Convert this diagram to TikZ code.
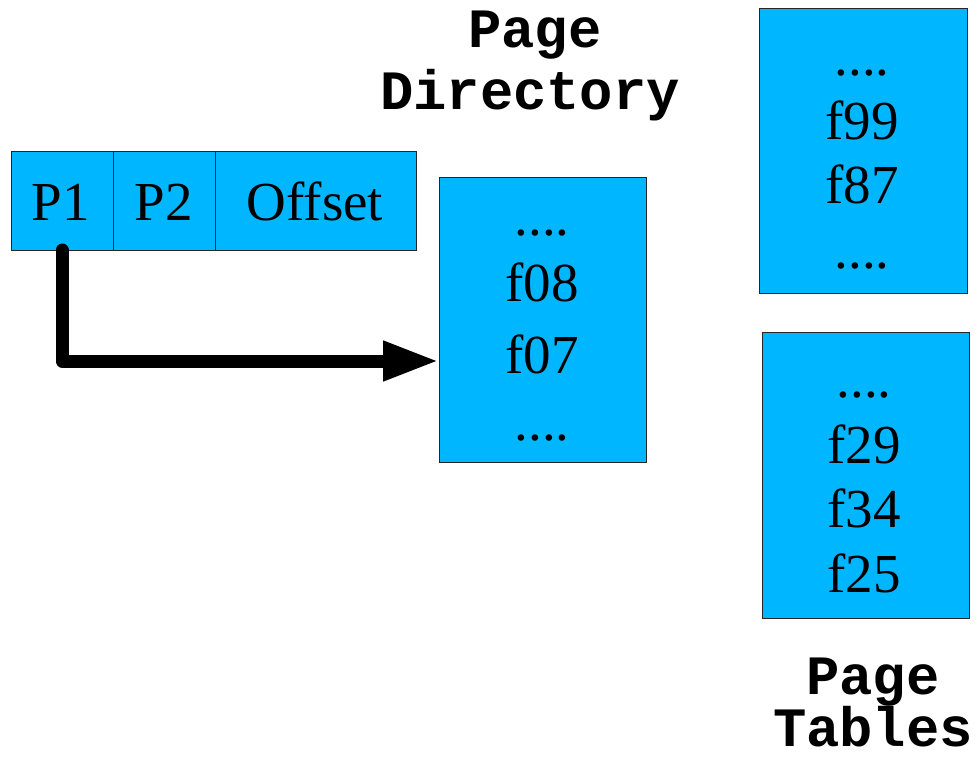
\documentclass[tikz,border=0pt]{standalone}
\usepackage{fontspec}
\setmainfont{Liberation Serif}
\newfontfamily\courfont{Liberation Mono}
\usetikzlibrary{arrows.meta}
\definecolor{boxblue}{RGB}{0,183,255}
\tikzset{
  cell/.style={draw=black!85, line width=0.9pt, fill=boxblue, anchor=north west, inner sep=0pt, outer sep=0pt},
  entry/.style={anchor=base, inner sep=0pt, font=\fontsize{55}{60}\selectfont},
  title/.style={anchor=base, inner sep=0pt, font=\courfont\bfseries\fontsize{55.5}{60}\selectfont},
  pointer/.style={line width=13pt, line cap=round, line join=round, -{Triangle[length=56pt,width=37pt]}}
}
\begin{document}
\begin{tikzpicture}[x=1pt,y=-1pt]
\useasboundingbox (0,0) rectangle (978,765);
% address bar
\node[cell, minimum width=102pt, minimum height=99pt] (p1) at (11,151) {};
\node[cell, minimum width=102pt, minimum height=99pt] (p2) at (113,151) {};
\node[cell, minimum width=201pt, minimum height=99pt] (off) at (215,151) {};
\node[entry] (tp1) at (61,221) {P1};
\node[entry] (tp2) at (164,221) {P2};
\node[entry] (toff) at (315,221) {Offset};
% page directory
\node[cell, minimum width=207pt, minimum height=285pt] (dir) at (439,177) {};
\node[entry] (d1) at (542,235) {....};
\node[entry] (d2) at (542,301) {f08};
\node[entry] (d3) at (542,373) {f07};
\node[entry] (d4) at (542,440) {....};
\node[title] (dt1) at (535,48) {Page};
\node[title] (dt2) at (530,110) {Directory};
% page table 1
\node[cell, minimum width=208pt, minimum height=285pt] (pt1) at (759,8) {};
\node[entry] (a1) at (862,76) {....};
\node[entry] (a2) at (862,140) {f99};
\node[entry] (a3) at (862,204) {f87};
\node[entry] (a4) at (862,268) {....};
% page table 2
\node[cell, minimum width=207pt, minimum height=286pt] (pt2) at (762,332) {};
\node[entry] (b1) at (864,397) {....};
\node[entry] (b2) at (864,463) {f29};
\node[entry] (b3) at (864,527) {f34};
\node[entry] (b4) at (864,592) {f25};
\node[title] (tt1) at (873,694) {Page};
\node[title] (tt2) at (873,746) {Tables};
% pointer
\coordinate (tgt) at (439,361);
\draw[pointer] (p1.south) |- (tgt);
\end{tikzpicture}
\end{document}
